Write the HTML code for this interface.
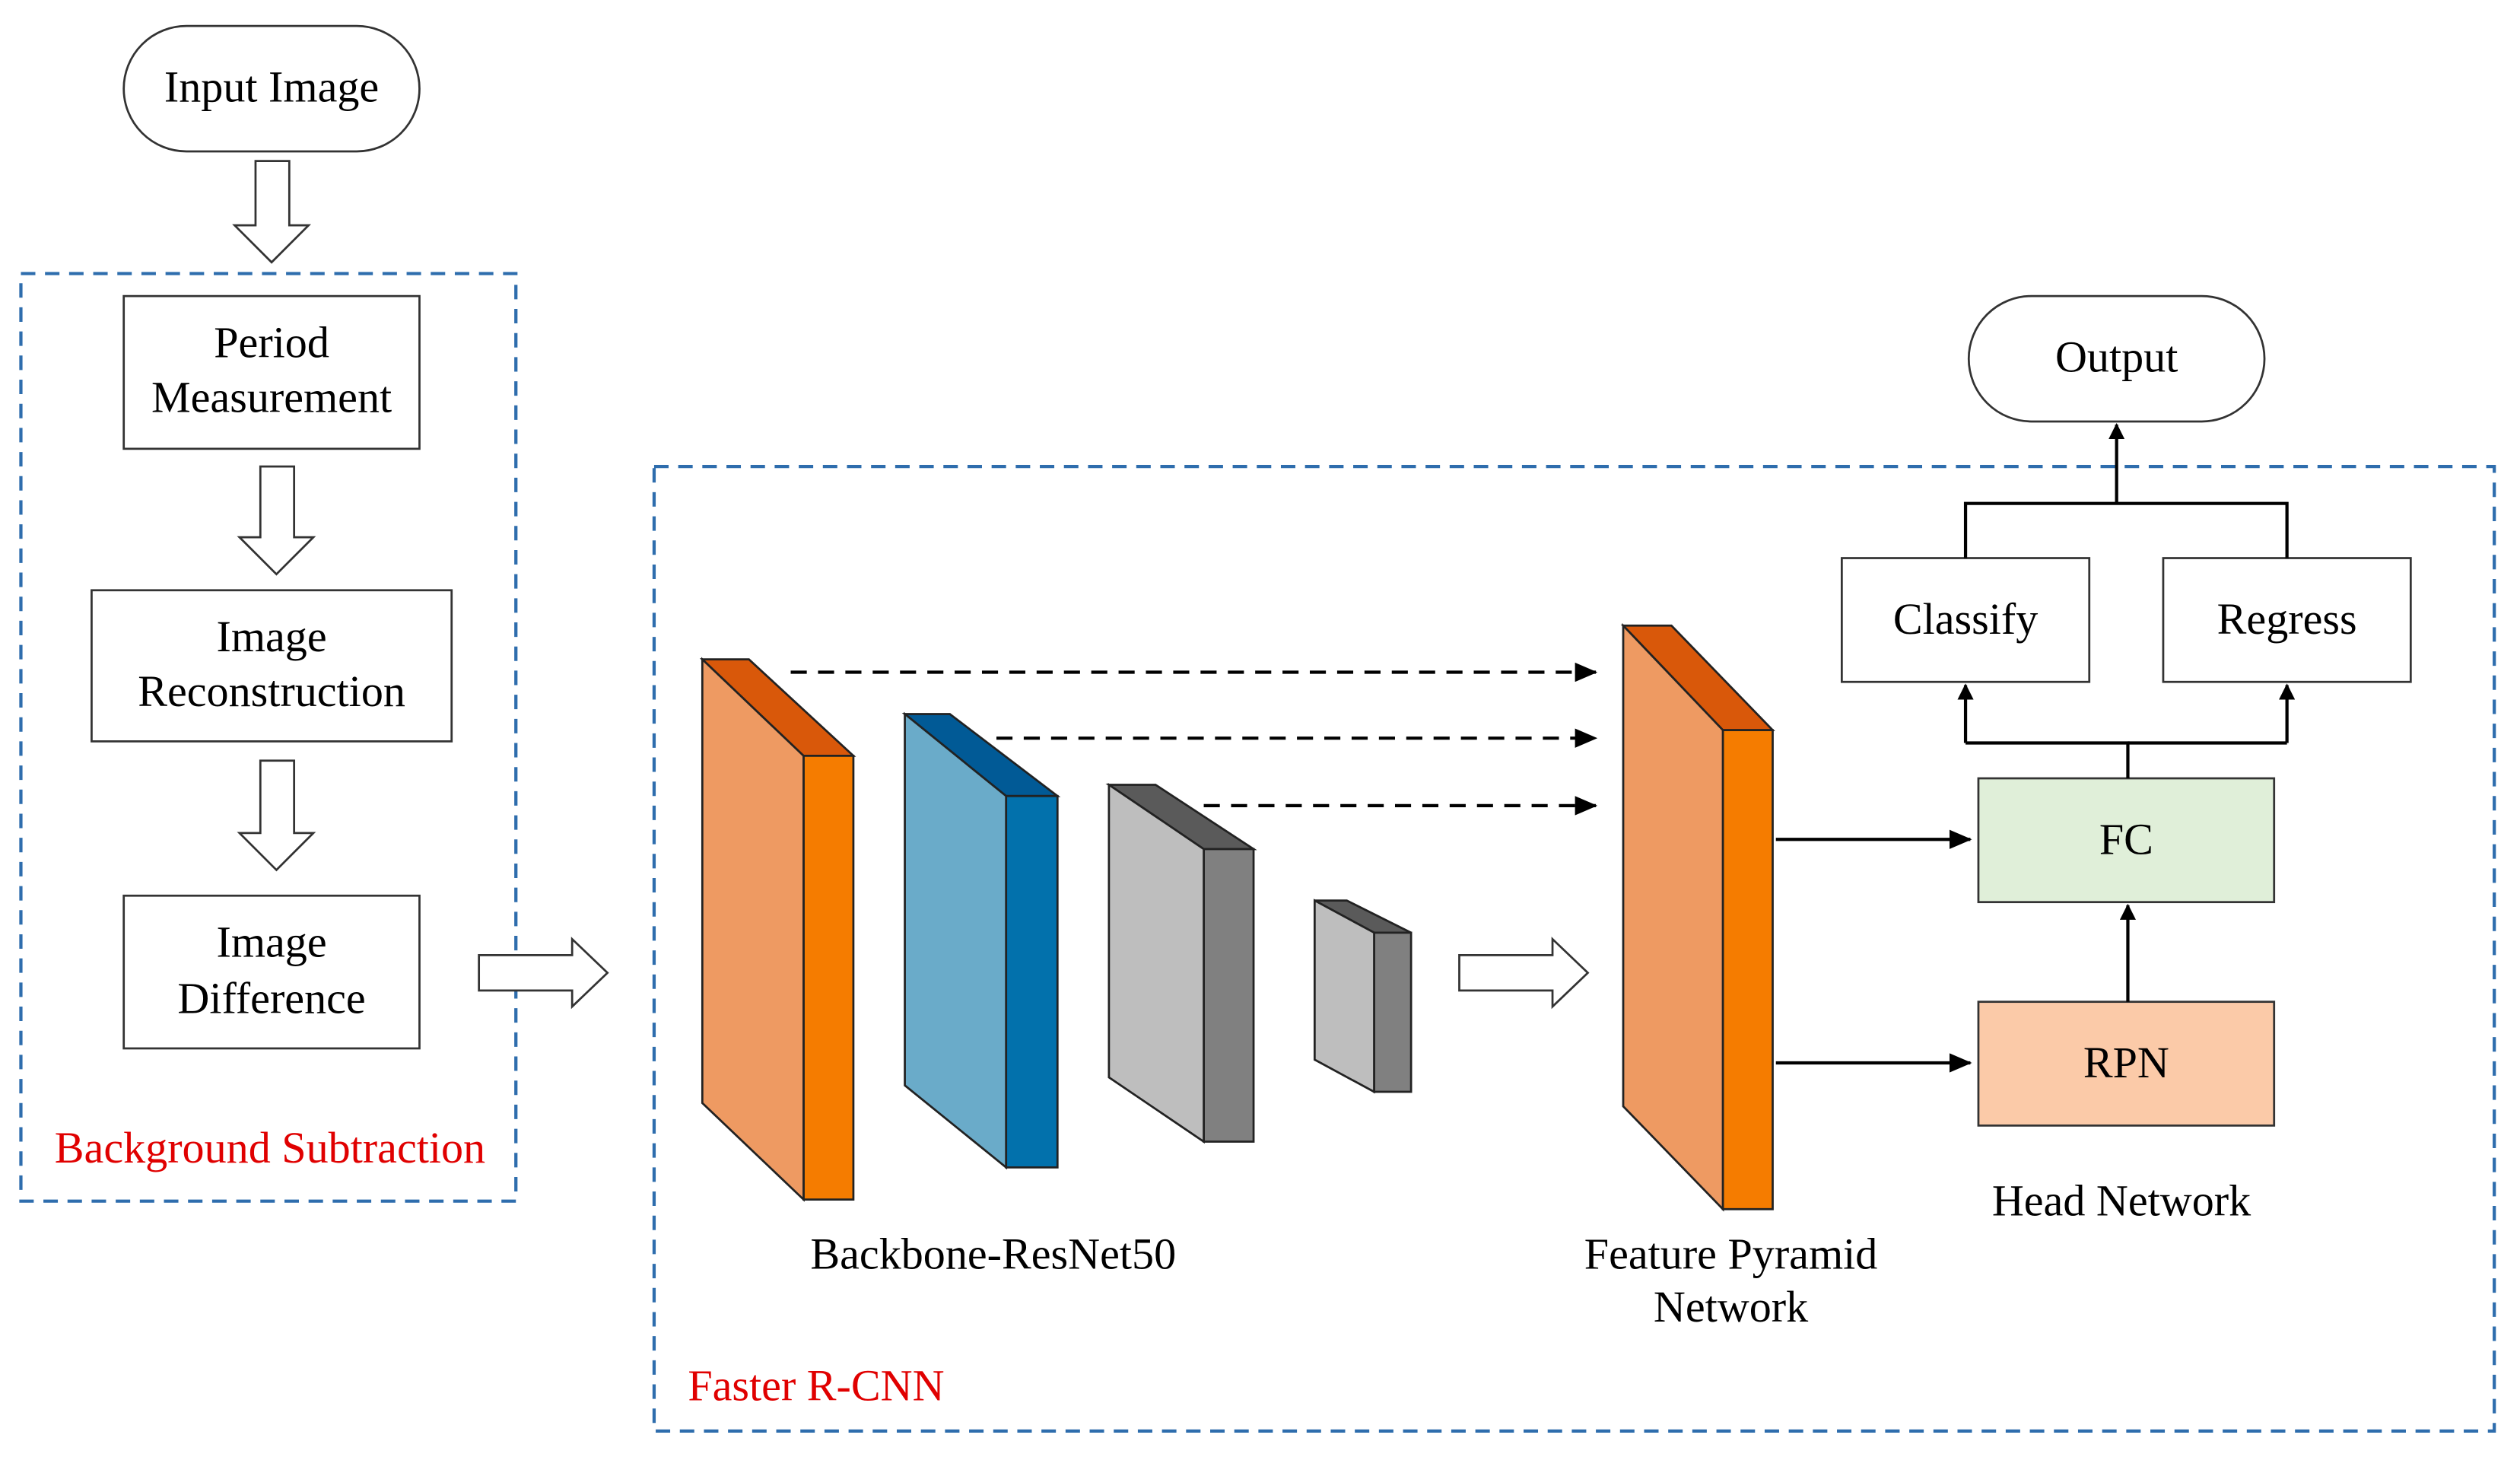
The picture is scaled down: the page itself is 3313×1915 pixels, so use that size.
<!DOCTYPE html>
<html><head><meta charset="utf-8"><style>
html,body{margin:0;padding:0;background:#fff;}
svg{display:block;}
text{font-family:"Liberation Serif",serif;font-size:27.5px;fill:#000;}
</style></head><body>
<svg width="3313" height="1915" viewBox="0 0 1568 906" xmlns="http://www.w3.org/2000/svg">
<defs>
<marker id="ah" markerWidth="10" markerHeight="10" refX="9" refY="5" orient="auto" markerUnits="userSpaceOnUse">
<path d="M0,0 L10,5 L0,10 z" fill="#000"/></marker>
<marker id="ah2" markerWidth="14" markerHeight="12" refX="13" refY="6" orient="auto" markerUnits="userSpaceOnUse">
<path d="M0,0 L14,6 L0,12 z" fill="#000"/></marker>
</defs>
<rect width="1568" height="906" fill="#fff"/>
<rect x="13" y="170" width="308" height="577" fill="none" stroke="#2e6dad" stroke-width="2" stroke-dasharray="9,6"/>
<rect x="407" y="290" width="1145" height="600" fill="none" stroke="#2e6dad" stroke-width="2" stroke-dasharray="9,6"/>
<g stroke="#333" stroke-width="1.3" fill="#fff">
<rect x="77" y="16" width="184" height="78" rx="39"/>
<rect x="1225" y="184" width="184" height="78" rx="39"/>
<rect x="77" y="184" width="184" height="95"/>
<rect x="57" y="367" width="224" height="94"/>
<rect x="77" y="557" width="184" height="95"/>
<rect x="1146" y="347" width="154" height="77"/>
<rect x="1346" y="347" width="154" height="77"/>
<rect x="1231" y="484" width="184" height="77" fill="#e0efd9"/>
<rect x="1231" y="623" width="184" height="77" fill="#fbcaa8"/>
<path d="M159,100 H180 V140 H192 L169,163 L146,140 H159 Z"/>
<path d="M162,290 H183 V334 H195 L172,357 L149,334 H162 Z"/>
<path d="M162,473 H183 V518 H195 L172,541 L149,518 H162 Z"/>
<path d="M298,594 H356 V584 L378,605 L356,626 V616 H298 Z"/>
<path d="M908,594 H966 V584 L988,605 L966,626 V616 H908 Z"/>
</g>
<g stroke="#222" stroke-width="1.3">
<polygon points="437,410 466,410 531,470 500,470" fill="#d9580a"/>
<polygon points="500,470 531,470 531,746 500,746" fill="#f57c00"/>
<polygon points="437,410 500,470 500,746 437,686" fill="#ee9a62"/>
<polygon points="563,444 591,444 658,495 626,495" fill="#015a96"/>
<polygon points="626,495 658,495 658,726 626,726" fill="#0271ac"/>
<polygon points="563,444 626,495 626,726 563,675" fill="#6aabc9"/>
<polygon points="690,488 719,488 780,528 749,528" fill="#5a5a5a"/>
<polygon points="749,528 780,528 780,710 749,710" fill="#808080"/>
<polygon points="690,488 749,528 749,710 690,670" fill="#bebebe"/>
<polygon points="818,560 838,560 878,580 855,580" fill="#5a5a5a"/>
<polygon points="855,580 878,580 878,679 855,679" fill="#808080"/>
<polygon points="818,560 855,580 855,679 818,659" fill="#bebebe"/>
<polygon points="1010,389 1040,389 1103,454 1072,454" fill="#d9580a"/>
<polygon points="1072,454 1103,454 1103,752 1072,752" fill="#f57c00"/>
<polygon points="1010,389 1072,454 1072,752 1010,688" fill="#ee9a62"/>
</g>
<g stroke="#000" stroke-width="2" stroke-dasharray="10,7" fill="none">
<line x1="492" y1="418" x2="993" y2="418" marker-end="url(#ah2)"/>
<line x1="620" y1="459" x2="993" y2="459" marker-end="url(#ah2)"/>
<line x1="749" y1="501" x2="993" y2="501" marker-end="url(#ah2)"/>
</g>
<g stroke="#000" stroke-width="2" fill="none">
<line x1="1105" y1="522" x2="1226" y2="522" marker-end="url(#ah2)"/>
<line x1="1105" y1="661" x2="1226" y2="661" marker-end="url(#ah2)"/>
<line x1="1324" y1="623" x2="1324" y2="563" marker-end="url(#ah)"/>
<path d="M1324,484 V462 H1223"/><path d="M1324,462 H1423"/>
<line x1="1223" y1="462" x2="1223" y2="426" marker-end="url(#ah)"/>
<line x1="1423" y1="462" x2="1423" y2="426" marker-end="url(#ah)"/>
<path d="M1223,347 V313 H1423 V347"/>
<line x1="1317" y1="313" x2="1317" y2="264" marker-end="url(#ah)"/>
</g>
<g text-anchor="middle">
<text x="169" y="63">Input Image</text>
<text x="1317" y="231">Output</text>
<text x="169" y="222">Period</text>
<text x="169" y="256">Measurement</text>
<text x="169" y="405">Image</text>
<text x="169" y="439">Reconstruction</text>
<text x="169" y="595">Image</text>
<text x="169" y="630">Difference</text>
<text x="168" y="723" style="fill:#e00000">Background Subtraction</text>
<text x="1223" y="394">Classify</text>
<text x="1423" y="394">Regress</text>
<text x="1323" y="531">FC</text>
<text x="1323" y="670">RPN</text>
<text x="1320" y="756">Head Network</text>
<text x="618" y="789">Backbone-ResNet50</text>
<text x="1077" y="789">Feature Pyramid</text>
<text x="1077" y="822">Network</text>
</g>
<text x="428" y="871" style="fill:#e00000">Faster R-CNN</text>
</svg>
</body></html>
